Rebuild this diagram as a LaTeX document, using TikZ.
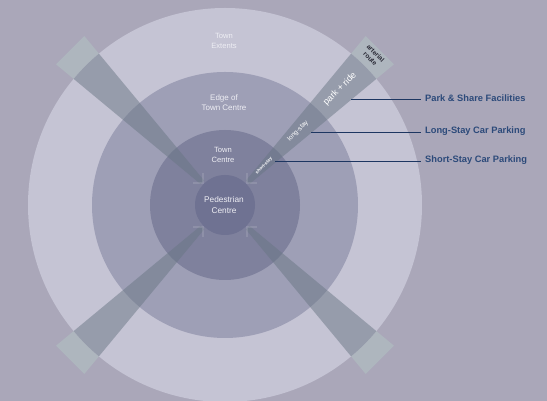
\documentclass[tikz,border=0pt]{standalone}
\usepackage{fontspec}
\setmainfont{Liberation Sans}
\definecolor{bgc}{RGB}{170,167,185}
\definecolor{outerc}{RGB}{197,196,212}
\definecolor{edgec}{RGB}{158,159,182}
\definecolor{townc}{RGB}{127,129,157}
\definecolor{pedc}{RGB}{111,114,146}
\definecolor{tipc}{RGB}{174,182,190}
\definecolor{spokec}{RGB}{105,118,132}
\definecolor{ringtext}{RGB}{238,238,244}
\definecolor{navy}{RGB}{29,54,97}
\definecolor{labtext}{RGB}{44,74,122}
\definecolor{darktext}{RGB}{40,40,52}
\tikzset{
  ringlabel/.style={text=ringtext, align=center, inner sep=0pt},
  spokelabel/.style={text=white, inner sep=0pt},
  keylabel/.style={text=labtext, anchor=west, inner sep=0pt, font=\bfseries\fontsize{9.3}{10}\selectfont},
  leader/.style={draw=navy, line width=0.9pt},
  spokeshape/.style={fill=spokec, fill opacity=0.5},
  chevron/.style={draw=white, draw opacity=0.12, line width=2.2pt}
}
\newcommand{\spokepath}{(32,-2.5) -- (219,-20) -- (219,20) -- (32,2.5) -- cycle}
\begin{document}
\begin{tikzpicture}[x=1pt,y=1pt]
\useasboundingbox (0,0) rectangle (547,401);
\fill[bgc] (0,0) rectangle (547,401);
\coordinate (c) at (225,196);
% tip boxes (outside outer circle)
\foreach \a in {45,135,225,315}{
  \begin{scope}[shift={(c)}, rotate=\a]
    \fill[tipc] \spokepath;
  \end{scope}
}
% rings
\fill[outerc] (c) circle (197);
\fill[edgec] (c) circle (133);
\fill[townc] (c) circle (75);
\fill[pedc] (c) circle (30);
% translucent spokes inside the outer circle
\begin{scope}
  \clip (c) circle (197);
  \foreach \a in {45,135,225,315}{
    \begin{scope}[shift={(c)}, rotate=\a]
      \fill[spokeshape] \spokepath;
      \draw[chevron] (38,7) -- (31,0) -- (38,-7);
    \end{scope}
  }
\end{scope}
% ring labels
\node[ringlabel, font=\fontsize{7.6}{10}\selectfont] (ext) at (224,360) {Town\\Extents};
\node[ringlabel, font=\fontsize{8}{10}\selectfont] (edge) at (224,298) {Edge of\\Town Centre};
\node[ringlabel, font=\fontsize{7.6}{10}\selectfont] (tc) at (223,246) {Town\\Centre};
\node[ringlabel, font=\fontsize{8.3}{11}\selectfont] (ped) at (224,196) {Pedestrian\\Centre};
% spoke labels
\node[spokelabel, rotate=45, font=\fontsize{9}{10}\selectfont] (pr) at (340,312) {park + ride};
\node[spokelabel, rotate=45, font=\fontsize{6.5}{8}\selectfont] (ls) at (298,270) {long-stay};
\node[spokelabel, rotate=45, font=\bfseries\fontsize{4.5}{5}\selectfont] (ss) at (264,235) {short-stay};
\node[text=darktext, rotate=-45, align=center, inner sep=0pt, font=\bfseries\fontsize{6.5}{7.5}\selectfont] (ar) at (373,345) {arterial\\route};
% key labels with leaders
\coordinate (psp) at (351,302);
\coordinate (lsp) at (311,269);
\coordinate (ssp) at (275,240);
\node[keylabel] (psl) at (425,303) {Park \& Share Facilities};
\node[keylabel] (lsl) at (425,270) {Long-Stay Car Parking};
\node[keylabel] (ssl) at (425,241) {Short-Stay Car Parking};
\draw[leader] (psp) -- ([xshift=-4pt]psp -| psl.west);
\draw[leader] (lsp) -- ([xshift=-4pt]lsp -| lsl.west);
\draw[leader] (ssp) -- ([xshift=-4pt]ssp -| ssl.west);
\end{tikzpicture}
\end{document}
